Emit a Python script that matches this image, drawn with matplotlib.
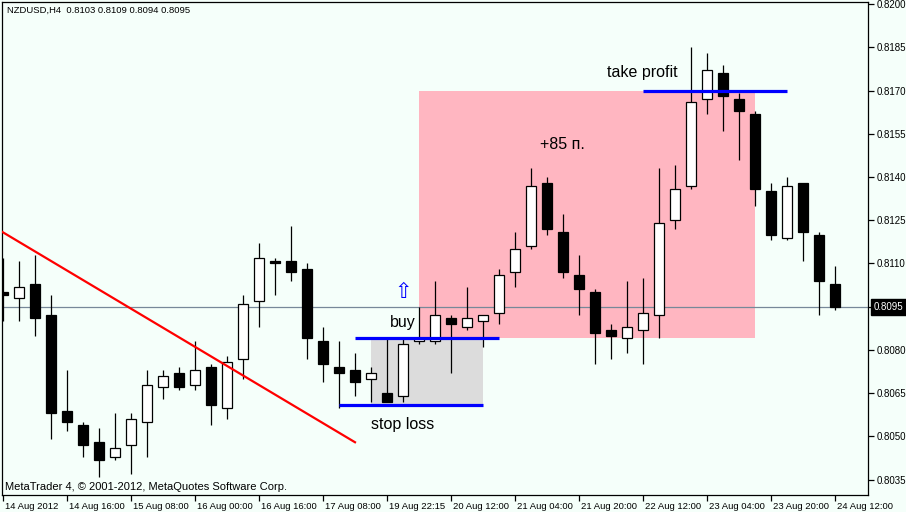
import matplotlib
matplotlib.use('Agg')
import matplotlib.pyplot as plt
import matplotlib.transforms as mtransforms
from matplotlib.patches import Rectangle

plt.rcParams['font.family'] = ['Liberation Sans', 'DejaVu Sans']

# NZDUSD H4 свечи (14-24 Aug 2012)
opens = [0.8100, 0.8098, 0.8103, 0.8092, 0.8059, 0.8054, 0.8048, 0.8043, 0.8047, 0.8055,
         0.8067, 0.8072, 0.8068, 0.8074, 0.8060, 0.8077, 0.8097, 0.8111, 0.8111, 0.8108,
         0.8083, 0.8074, 0.8073, 0.8070, 0.8065, 0.8064, 0.8083, 0.8083, 0.8091, 0.8088,
         0.8090, 0.8093, 0.8107, 0.8116, 0.8138, 0.8121, 0.8106, 0.8100, 0.8087, 0.8084,
         0.8087, 0.8092, 0.8125, 0.8137, 0.8167, 0.8176, 0.8167, 0.8162, 0.8135, 0.8119,
         0.8138, 0.8120, 0.8103]
highs = [0.8112, 0.8111, 0.8113, 0.8099, 0.8073, 0.8055, 0.8053, 0.8058, 0.8058, 0.8073,
         0.8073, 0.8074, 0.8083, 0.8075, 0.8078, 0.8099, 0.8117, 0.8112, 0.8123, 0.8110,
         0.8088, 0.8083, 0.8079, 0.8074, 0.8084, 0.8084, 0.8095, 0.8104, 0.8092, 0.8102,
         0.8092, 0.8108, 0.8121, 0.8143, 0.8140, 0.8127, 0.8113, 0.8101, 0.8089, 0.8104,
         0.8105, 0.8143, 0.8144, 0.8185, 0.8183, 0.8179, 0.8169, 0.8163, 0.8138, 0.8140,
         0.8138, 0.8121, 0.8109]
lows = [0.8090, 0.8090, 0.8085, 0.8049, 0.8052, 0.8043, 0.8036, 0.8042, 0.8037, 0.8043,
        0.8063, 0.8066, 0.8066, 0.8054, 0.8056, 0.8070, 0.8088, 0.8099, 0.8104, 0.8077,
        0.8069, 0.8060, 0.8064, 0.8062, 0.8062, 0.8062, 0.8082, 0.8082, 0.8072, 0.8087,
        0.8081, 0.8089, 0.8102, 0.8115, 0.8120, 0.8105, 0.8092, 0.8075, 0.8077, 0.8079,
        0.8075, 0.8084, 0.8122, 0.8136, 0.8162, 0.8156, 0.8146, 0.8130, 0.8118, 0.8118,
        0.8111, 0.8092, 0.8094]
closes = [0.8099, 0.8102, 0.8091, 0.8058, 0.8055, 0.8047, 0.8042, 0.8046, 0.8056, 0.8068,
          0.8071, 0.8067, 0.8073, 0.8061, 0.8076, 0.8096, 0.8112, 0.8110, 0.8107, 0.8084,
          0.8075, 0.8072, 0.8069, 0.8072, 0.8062, 0.8082, 0.8084, 0.8092, 0.8089, 0.8091,
          0.8092, 0.8106, 0.8115, 0.8137, 0.8122, 0.8107, 0.8101, 0.8086, 0.8085, 0.8088,
          0.8093, 0.8124, 0.8136, 0.8166, 0.8177, 0.8168, 0.8163, 0.8136, 0.8120, 0.8137,
          0.8121, 0.8104, 0.8095]

time_labels = ['14 Aug 2012', '14 Aug 16:00', '15 Aug 08:00', '16 Aug 00:00', '16 Aug 16:00',
               '17 Aug 08:00', '19 Aug 22:15', '20 Aug 12:00', '21 Aug 04:00', '21 Aug 20:00',
               '22 Aug 12:00', '23 Aug 04:00', '23 Aug 20:00', '24 Aug 12:00']
time_ticks = [0, 4, 8, 12, 16, 20, 24, 28, 32, 36, 40, 44, 48, 52]
price_ticks = [0.8035, 0.8050, 0.8065, 0.8080, 0.8095, 0.8110, 0.8125, 0.8140, 0.8155, 0.8170,
               0.8185, 0.8200]

# объекты на графике
trend_x = [-0.06, 22.0]
trend_y = [0.8121, 0.8048]
level_names = ['buy', 'stop loss', 'take profit']
level_prices = [0.8084, 0.8061, 0.8170]
level_start = [22, 21, 40]
level_end = [31, 30, 49]
profit_box = [26, 47, 0.8084, 0.8170]   # бар от, бар до, цена низ, цена верх
loss_box = [23, 30, 0.8061, 0.8084]

bg = '#F5FFFA'
fig = plt.figure(figsize=(9.06, 5.12), dpi=100, facecolor=bg)
W, H = 906, 512
ax = fig.add_axes([2 / W, 17 / H, 866 / W, 493 / H], facecolor=bg)

x = list(range(len(opens)))

# прямоугольники
ax.add_patch(Rectangle((profit_box[0], profit_box[2]), profit_box[1] - profit_box[0],
                       profit_box[3] - profit_box[2], fc='#FFB6C1', ec='none', zorder=0.5))
ax.add_patch(Rectangle((loss_box[0], loss_box[2]), loss_box[1] - loss_box[0],
                       loss_box[3] - loss_box[2], fc='#DCDCDC', ec='none', zorder=0.5))

# линия текущей цены
ax.axhline(closes[-1], color='#778899', lw=0.9, zorder=1)

# свечи
ax.vlines(x, lows, highs, color='black', lw=0.9, zorder=2)
bottoms = [min(o, c) for o, c in zip(opens, closes)]
heights = [max(abs(c - o), 0.00001) for o, c in zip(opens, closes)]
colors = ['white' if c > o else 'black' for o, c in zip(opens, closes)]
ax.bar(x, heights, bottom=bottoms, width=0.66, color=colors, edgecolor='black',
       linewidth=0.9, zorder=3)

# трендовая линия и уровни
ax.plot(trend_x, trend_y, color='red', lw=1.6, zorder=4)
ax.hlines(level_prices, level_start, level_end, color='blue', lw=2.3, zorder=4)

ax.text(25, 0.80897, 'buy', fontsize=11.5, ha='center', va='center', zorder=5)
ax.text(25, 0.80543, 'stop loss', fontsize=11.5, ha='center', va='center', zorder=5)
ax.text(39.94, 0.81764, 'take profit', fontsize=11.5, ha='center', va='center', zorder=5)
ax.text(34.94, 0.81514, '+85 п.', fontsize=11.5, ha='center', va='center', zorder=5)
ax.text(25, 0.81001, '⇧', fontsize=15, color='blue', ha='center', va='center',
        family=['DejaVu Sans'], zorder=5)

ax.set_xlim(-0.0625, 54.0625)
ax.set_ylim(0.80297, 0.82007)

# оси
for s in ax.spines.values():
    s.set_linewidth(0.9)
    s.set_color('black')
ax.yaxis.tick_right()
ax.set_yticks(price_ticks)
ax.set_yticklabels(['' if abs(p - closes[-1]) < 1e-6 else f'{p:.4f}' for p in price_ticks])
ax.set_xticks(time_ticks)
ax.set_xticklabels(time_labels)
ax.tick_params(axis='both', direction='out', length=4, width=0.9, colors='black')
ax.tick_params(axis='y', pad=2, labelsize=7.0)
ax.tick_params(axis='x', pad=1, labelsize=6.8)
offset = mtransforms.ScaledTranslation(2 / 100, 0, fig.dpi_scale_trans)
for lbl in ax.get_xticklabels():
    lbl.set_horizontalalignment('left')
    lbl.set_transform(lbl.get_transform() + offset)

# метка текущей цены
ax.annotate(f'{closes[-1]:.4f}', xy=(1, closes[-1]), xycoords=('axes fraction', 'data'),
            xytext=(6, 0), textcoords='offset pixels', fontsize=7.0, color='white',
            va='center', ha='left', annotation_clip=False,
            bbox=dict(boxstyle='square,pad=0.3', fc='black', ec='black'))

fig.text(7 / W, 1 - 10 / H, 'NZDUSD,H4  0.8103 0.8109 0.8094 0.8095', fontsize=6.8,
         va='center', ha='left')
ax.text(3 / 866, 8 / 493, 'MetaTrader 4, © 2001-2012, MetaQuotes Software Corp.',
        transform=ax.transAxes, fontsize=8.0, va='center', ha='left')

fig.savefig('out.png', dpi=100, facecolor=bg)
